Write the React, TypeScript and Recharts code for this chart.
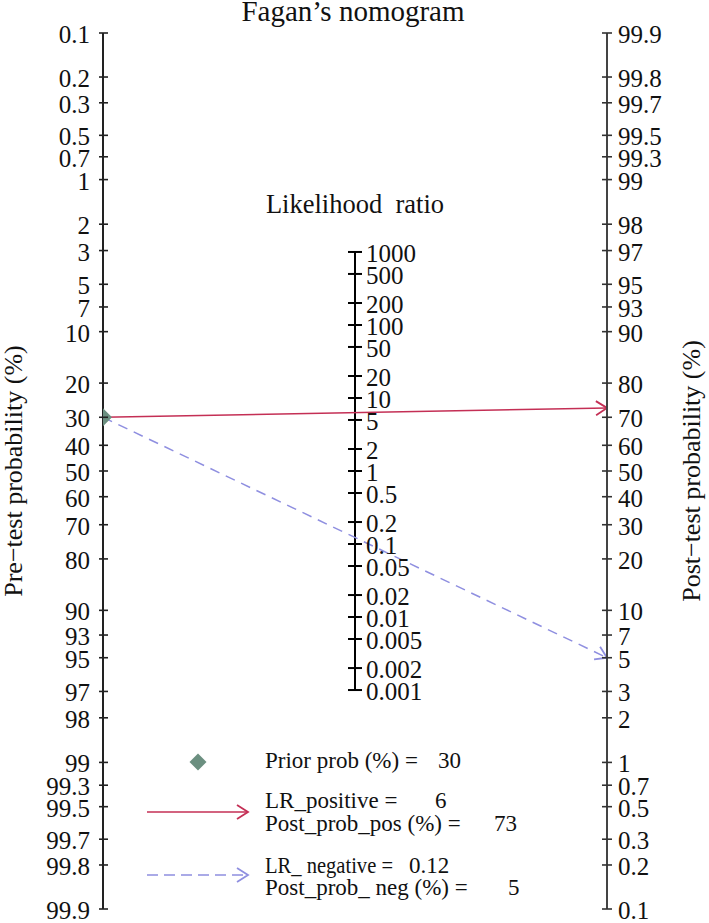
import React from "react";
import { ComposedChart, Line, Scatter, XAxis, YAxis, Legend } from "recharts";

// tick values of the three scales
const probTicks = [0.1, 0.2, 0.3, 0.5, 0.7, 1, 2, 3, 5, 7, 10, 20, 30, 40, 50, 60, 70, 80, 90, 93, 95, 97, 98, 99, 99.3, 99.5, 99.7, 99.8, 99.9];
const lrTicks = [1000, 500, 200, 100, 50, 20, 10, 5, 2, 1, 0.5, 0.2, 0.1, 0.05, 0.02, 0.01, 0.005, 0.002, 0.001];

// values
const priorProb = 30;
const lrPositive = 6;
const postProbPos = 73;
const lrNegative = 0.12;
const postProbNeg = 5;

const RED = "#c42f55";
const BLUE = "#8f8fe0";
const GREEN = "#6b8f80";
const FONT = "'Liberation Serif', 'Times New Roman', serif";

const logit = (pct: number) => Math.log(pct / (100 - pct));
const LIM = logit(99.9);

// one vertical scale for all three axes, top = +LIM
const leftY = (p: number) => -logit(p);
const rightY = (p: number) => logit(p);
const midY = (lr: number) => Math.log(lr) / 2;

const leftTicks = probTicks.map(leftY);
const rightTicks = probTicks.map(rightY);

const midAxisData = [
  { x: 0.5, y: midY(lrTicks[0]) },
  { x: 0.5, y: midY(lrTicks[lrTicks.length - 1]) },
];
const lrTickData = lrTicks.map((v) => ({ x: 0.5, y: midY(v), label: String(v) }));
const priorData = [{ x: 0, y: leftY(priorProb) }];
const posData = [
  { x: 0, y: leftY(priorProb) },
  { x: 1, y: rightY(postProbPos) },
];
const negData = [
  { x: 0, y: leftY(priorProb) },
  { x: 1, y: rightY(postProbNeg) },
];

function findProb(value: number, fn: (p: number) => number) {
  const p = probTicks.find((t) => Math.abs(fn(t) - value) < 1e-6);
  return p === undefined ? "" : String(p);
}

function LeftTick(props: any) {
  const { x, y, payload } = props;
  return (
    <g>
      <line x1={x - 4} x2={x + 5} y1={y} y2={y} stroke="#222" strokeWidth={1.6} />
      <text x={x - 13} y={y + 10} textAnchor="end" fontFamily={FONT} fontSize={25} fill="#111">
        {findProb(payload.value, leftY)}
      </text>
    </g>
  );
}

function RightTick(props: any) {
  const { x, y, payload } = props;
  return (
    <g>
      <line x1={x - 5} x2={x + 5} y1={y} y2={y} stroke="#333" strokeWidth={1.6} />
      <text x={x + 11} y={y + 10} textAnchor="start" fontFamily={FONT} fontSize={25} fill="#111">
        {findProb(payload.value, rightY)}
      </text>
    </g>
  );
}

function LrTick(props: any) {
  const { cx, cy, payload } = props;
  return (
    <g>
      <line x1={cx - 7} x2={cx + 7} y1={cy} y2={cy} stroke="#000" strokeWidth={2} />
      <text x={cx + 11} y={cy + 10} textAnchor="start" fontFamily={FONT} fontSize={25} fill="#111">
        {payload.label}
      </text>
    </g>
  );
}

function Diamond(props: any) {
  const { cx, cy } = props;
  const r = 9;
  return <polygon points={`${cx},${cy - r} ${cx + r},${cy} ${cx},${cy + r} ${cx - r},${cy}`} fill={GREEN} />;
}

function LegendBox() {
  const t = { fontFamily: FONT, fontSize: 23, fill: "#111" };
  return (
    <svg width={400} height={180} style={{ overflow: "visible" }}>
      <polygon points="68,13.5 76.5,22 68,30.5 59.5,22" fill={GREEN} />
      <text x={135} y={28} {...t}>Prior prob (%) =</text>
      <text x={308} y={28} {...t}>{priorProb}</text>

      <line x1={17} x2={117} y1={72} y2={72} stroke={RED} strokeWidth={1.6} />
      <path d="M107,65 L118,72 L107,79" fill="none" stroke={RED} strokeWidth={1.8} />
      <text x={135} y={68} {...t}>LR_positive =</text>
      <text x={305} y={68} {...t}>{lrPositive}</text>
      <text x={135} y={91} {...t}>Post_prob_pos (%) =</text>
      <text x={364} y={91} {...t}>{postProbPos}</text>

      <line x1={17} x2={117} y1={135} y2={135} stroke={BLUE} strokeWidth={1.6} strokeDasharray="11 6" />
      <path d="M107,128 L118,135 L107,142" fill="none" stroke={BLUE} strokeWidth={1.8} />
      <text x={135} y={133} {...t} textLength={128} lengthAdjust="spacingAndGlyphs">LR_ negative =</text>
      <text x={279} y={133} {...t}>{lrNegative}</text>
      <text x={135} y={155} {...t}>Post_prob_ neg (%) =</text>
      <text x={378} y={155} {...t}>{postProbNeg}</text>
    </svg>
  );
}

function sideLabel(text: string, dx: number) {
  return (props: any) => {
    const vb = props.viewBox || { x: 0, y: 0, width: 0, height: 0 };
    const x = vb.x + dx;
    const y = vb.y + vb.height / 2;
    return (
      <text x={x} y={y} transform={`rotate(-90, ${x}, ${y})`} textAnchor="middle" fontFamily={FONT} fontSize={26} fill="#111">
        {text}
      </text>
    );
  };
}

export default function App() {
  return (
    <div style={{ position: "absolute", left: 0, top: 0 }}>
      <svg width={0} height={0} style={{ position: "absolute" }}>
        <defs>
          <marker id="arrowRed" markerUnits="userSpaceOnUse" markerWidth={16} markerHeight={16} refX={13} refY={8} orient="auto">
            <path d="M2,1 L13,8 L2,15" fill="none" stroke={RED} strokeWidth={1.8} />
          </marker>
          <marker id="arrowBlue" markerUnits="userSpaceOnUse" markerWidth={16} markerHeight={16} refX={13} refY={8} orient="auto">
            <path d="M2,1 L13,8 L2,15" fill="none" stroke={BLUE} strokeWidth={1.8} />
          </marker>
        </defs>
      </svg>
      <ComposedChart width={709} height={923} margin={{ top: 33, right: 42, bottom: 14, left: 43 }}>
        <XAxis type="number" dataKey="x" domain={[0, 1]} hide allowDataOverflow />
        <YAxis
          yAxisId="L"
          orientation="left"
          type="number"
          dataKey="y"
          domain={[-LIM, LIM]}
          ticks={leftTicks}
          interval={0}
          width={60}
          tickSize={0}
          tickMargin={0}
          tickLine={false}
          axisLine={{ stroke: "#222", strokeWidth: 2 }}
          tick={<LeftTick />}
          allowDataOverflow
          label={{ content: sideLabel("Pre\u2212test probability (%)", -21) }}
        />
        <YAxis
          yAxisId="R"
          orientation="right"
          type="number"
          dataKey="y"
          domain={[-LIM, LIM]}
          ticks={rightTicks}
          interval={0}
          width={60}
          tickSize={0}
          tickMargin={0}
          tickLine={false}
          axisLine={{ stroke: "#444", strokeWidth: 2 }}
          tick={<RightTick />}
          allowDataOverflow
          label={{ content: sideLabel("Post\u2212test probability (%)", 93) }}
        />
        <Line yAxisId="R" data={midAxisData} dataKey="y" stroke="#000" strokeWidth={2} dot={false} isAnimationActive={false} />
        <Scatter yAxisId="R" data={lrTickData} dataKey="y" shape={<LrTick />} isAnimationActive={false} />
        <Line
          yAxisId="R"
          data={posData}
          dataKey="y"
          stroke={RED}
          strokeWidth={1.5}
          dot={false}
          markerEnd="url(#arrowRed)"
          isAnimationActive={false}
        />
        <Line
          yAxisId="R"
          data={negData}
          dataKey="y"
          stroke={BLUE}
          strokeWidth={1.5}
          strokeDasharray="10 7"
          dot={false}
          markerEnd="url(#arrowBlue)"
          isAnimationActive={false}
        />
        <Scatter yAxisId="R" data={priorData} dataKey="y" shape={<Diamond />} isAnimationActive={false} />
        <Legend
          layout="horizontal"
          verticalAlign="middle"
          content={<LegendBox />}
          wrapperStyle={{ left: 130, top: 740, width: 400, height: 180 }}
        />
        <text x={353} y={21} textAnchor="middle" fontFamily={FONT} fontSize={29} fill="#111">
          Fagan’s nomogram
        </text>
        <text x={355} y={213} textAnchor="middle" fontFamily={FONT} fontSize={26.5} fill="#111" style={{ whiteSpace: "pre" }}>
          Likelihood  ratio
        </text>
      </ComposedChart>
    </div>
  );
}
